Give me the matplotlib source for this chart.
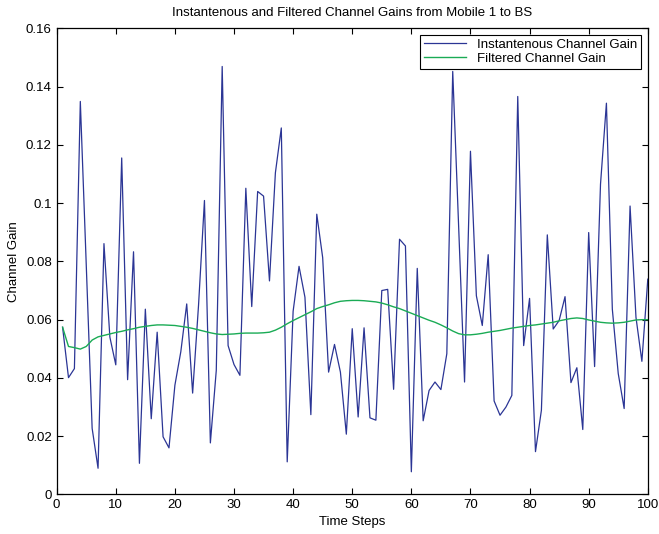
import numpy as np
import matplotlib
matplotlib.use("Agg")
import matplotlib.pyplot as plt
from matplotlib.ticker import FuncFormatter

# Channel gains, time steps 1..100
time_steps = list(range(1, 101))

inst_gain = [
    0.0574, 0.0401, 0.0432, 0.1349, 0.0790, 0.0227, 0.0090, 0.0861, 0.0540, 0.0445,
    0.1155, 0.0394, 0.0833, 0.0107, 0.0636, 0.0260, 0.0557, 0.0198, 0.0160, 0.0375,
    0.0490, 0.0654, 0.0348, 0.0650, 0.1009, 0.0177, 0.0426, 0.1469, 0.0511, 0.0446,
    0.0409, 0.1051, 0.0645, 0.1040, 0.1024, 0.0733, 0.1104, 0.1258, 0.0112, 0.0629,
    0.0783, 0.0677, 0.0274, 0.0962, 0.0813, 0.0420, 0.0515, 0.0420, 0.0207, 0.0569,
    0.0266, 0.0572, 0.0263, 0.0255, 0.0700, 0.0704, 0.0361, 0.0876, 0.0853, 0.0078,
    0.0776, 0.0253, 0.0357, 0.0386, 0.0360, 0.0483, 0.1452, 0.0920, 0.0386, 0.1178,
    0.0682, 0.0580, 0.0823, 0.0321, 0.0272, 0.0300, 0.0340, 0.1366, 0.0511, 0.0673,
    0.0147, 0.0289, 0.0891, 0.0568, 0.0597, 0.0679, 0.0384, 0.0435, 0.0223, 0.0899,
    0.0439, 0.1065, 0.1343, 0.0636, 0.0415, 0.0295, 0.0990, 0.0608, 0.0457, 0.0739,
]

filt_gain = [
    0.0574, 0.0508, 0.0504, 0.0499, 0.0508, 0.0530, 0.0541, 0.0546, 0.0551, 0.0556,
    0.0560, 0.0565, 0.0569, 0.0574, 0.0577, 0.0580, 0.0582, 0.0582, 0.0581, 0.0580,
    0.0577, 0.0574, 0.0570, 0.0565, 0.0560, 0.0555, 0.0551, 0.0549, 0.0550, 0.0551,
    0.0553, 0.0554, 0.0554, 0.0554, 0.0555, 0.0557, 0.0564, 0.0574, 0.0586, 0.0597,
    0.0607, 0.0617, 0.0627, 0.0638, 0.0645, 0.0651, 0.0658, 0.0663, 0.0665, 0.0666,
    0.0666, 0.0665, 0.0663, 0.0661, 0.0657, 0.0651, 0.0644, 0.0638, 0.0630, 0.0622,
    0.0614, 0.0606, 0.0598, 0.0591, 0.0582, 0.0572, 0.0561, 0.0552, 0.0548, 0.0548,
    0.0550, 0.0553, 0.0557, 0.0560, 0.0563, 0.0567, 0.0571, 0.0574, 0.0577, 0.0580,
    0.0582, 0.0585, 0.0588, 0.0591, 0.0596, 0.0600, 0.0604, 0.0606, 0.0604, 0.0599,
    0.0595, 0.0591, 0.0589, 0.0588, 0.0589, 0.0591, 0.0595, 0.0599, 0.0600, 0.0600,
]

x_ticks = list(range(0, 101, 10))
y_ticks = [0, 0.02, 0.04, 0.06, 0.08, 0.1, 0.12, 0.14, 0.16]

plt.rcParams["font.family"] = ["Liberation Sans", "DejaVu Sans"]
plt.rcParams["font.size"] = 9.5

fig = plt.figure(figsize=(6.59, 5.34), dpi=100)
ax = fig.add_axes([0.086, 0.074, 0.897, 0.873])

ax.plot(time_steps, inst_gain, color="#2b3595", linewidth=0.9,
        label="Instantenous Channel Gain")
ax.plot(time_steps, filt_gain, color="#1aab55", linewidth=1.0,
        label="Filtered Channel Gain")

ax.set_xlim(0, 100)
ax.set_ylim(0, 0.16)
ax.set_xticks(x_ticks)
ax.set_yticks(y_ticks)
ax.yaxis.set_major_formatter(FuncFormatter(lambda v, p: "%g" % round(v, 2)))
ax.tick_params(direction="in", top=True, right=True, length=4, width=0.8)
for sp in ax.spines.values():
    sp.set_linewidth(0.9)

ax.set_xlabel("Time Steps", labelpad=3)
ax.set_ylabel("Channel Gain", labelpad=4)
ax.set_title("Instantenous and Filtered Channel Gains from Mobile 1 to BS",
             fontsize=9.5, pad=9)

leg = ax.legend(loc="upper right", fancybox=False, framealpha=1,
                edgecolor="black", borderpad=0.3, handlelength=3.2,
                labelspacing=0.1, borderaxespad=0.5)
leg.get_frame().set_linewidth(0.8)

fig.savefig("out.png", dpi=100)
